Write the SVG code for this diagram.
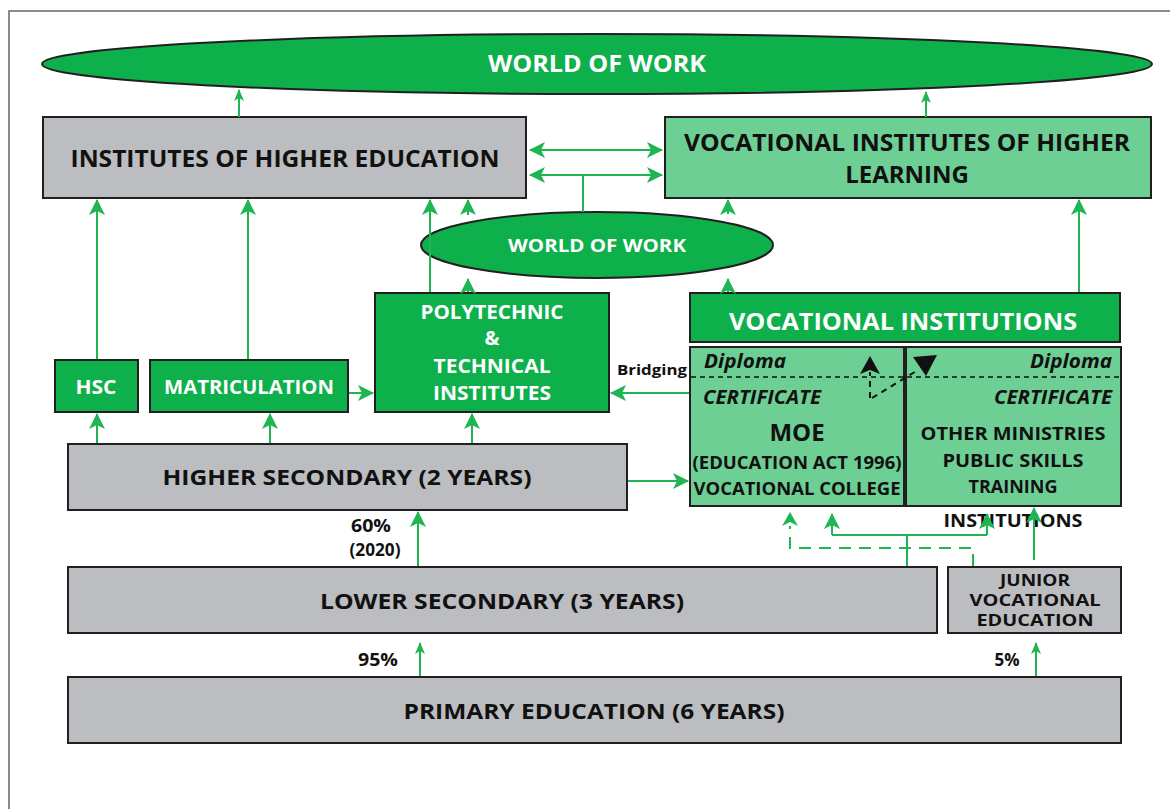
<svg xmlns="http://www.w3.org/2000/svg" width="1170" height="809" viewBox="0 0 1170 809">
<defs>
<style>
.t{font-family:"Open Sans","Liberation Sans",sans-serif;font-weight:700;text-anchor:middle}
.w{fill:#ffffff}
.k{fill:#111111}
.dg{fill:#0db04b;stroke:#231f20;stroke-width:2}
.lg{fill:#6dcf94;stroke:#231f20;stroke-width:2}
.gr{fill:#bcbdc0;stroke:#231f20;stroke-width:2}
.c{fill:none;stroke:#1fb552;stroke-width:2}
.cd{fill:none;stroke:#1fb552;stroke-width:2;stroke-dasharray:12 8}
.bd{fill:none;stroke:#111;stroke-width:2;stroke-dasharray:6 5}
</style>
<marker id="a" markerUnits="userSpaceOnUse" markerWidth="16" markerHeight="16" refX="15" refY="8" orient="auto-start-reverse" viewBox="0 0 16 16">
<path d="M0,0 L16,8 L0,16 L4,8 z" fill="#1fb552"/>
</marker>
<marker id="s" markerUnits="userSpaceOnUse" markerWidth="12" markerHeight="10" refX="11" refY="5" orient="auto-start-reverse" viewBox="0 0 12 10">
<path d="M0,0 L12,5 L0,10 L3,5 z" fill="#1fb552"/>
</marker>
</defs>
<rect width="1170" height="809" fill="#ffffff"/>
<path d="M9,815 V11 H1175" fill="none" stroke="#666" stroke-width="1.5"/>

<g id="world-of-work-top">
<ellipse cx="597" cy="64" rx="555" ry="30" class="dg"/>
<text class="t w" x="597" y="72" font-size="24" textLength="218" lengthAdjust="spacingAndGlyphs">WORLD OF WORK</text>
</g>
<g id="ihe">
<rect x="43" y="117" width="483" height="81" class="gr"/>
<text class="t k" x="285" y="167" font-size="24" textLength="429" lengthAdjust="spacingAndGlyphs">INSTITUTES OF HIGHER EDUCATION</text>
</g>
<g id="vihl">
<rect x="665" y="117" width="486" height="81" class="lg"/>
<text class="t k" x="907" y="151" font-size="24" textLength="446" lengthAdjust="spacingAndGlyphs">VOCATIONAL INSTITUTES OF HIGHER</text>
<text class="t k" x="907" y="183" font-size="24">LEARNING</text>
</g>
<g id="world-of-work-mid">
<ellipse cx="597" cy="245" rx="176" ry="33" class="dg"/>
<text class="t w" x="597" y="252" font-size="17" textLength="178" lengthAdjust="spacingAndGlyphs">WORLD OF WORK</text>
</g>
<g id="polytechnic">
<rect x="375" y="293" width="234" height="119" class="dg"/>
<text class="t w" x="492" y="319" font-size="20" textLength="143" lengthAdjust="spacingAndGlyphs">POLYTECHNIC</text>
<text class="t w" x="492" y="345" font-size="20">&amp;</text>
<text class="t w" x="492" y="373" font-size="20" textLength="117" lengthAdjust="spacingAndGlyphs">TECHNICAL</text>
<text class="t w" x="492" y="400" font-size="20" textLength="118" lengthAdjust="spacingAndGlyphs">INSTITUTES</text>
</g>
<g id="vocational-institutions">
<rect x="690" y="293" width="430" height="49" class="dg"/>
<text class="t w" x="903" y="330" font-size="24" textLength="348" lengthAdjust="spacingAndGlyphs">VOCATIONAL INSTITUTIONS</text>
</g>
<g id="hsc">
<rect x="55" y="360" width="83" height="52" class="dg"/>
<text class="t w" x="96" y="394" font-size="20" textLength="41" lengthAdjust="spacingAndGlyphs">HSC</text>
</g>
<g id="matriculation">
<rect x="150" y="360" width="198" height="52" class="dg"/>
<text class="t w" x="249" y="394" font-size="20" textLength="170" lengthAdjust="spacingAndGlyphs">MATRICULATION</text>
</g>
<g id="bridging">
<text class="t k" x="652" y="375" font-size="15" font-weight="600" textLength="70" lengthAdjust="spacingAndGlyphs">Bridging</text>
</g>
<g id="moe">
<rect x="690" y="347" width="214" height="159" class="lg"/>
<text class="t k" x="704" y="368" font-size="19" font-style="italic" style="text-anchor:start" textLength="82" lengthAdjust="spacingAndGlyphs">Diploma</text>
<text class="t k" x="703" y="404" font-size="20" font-style="italic" font-weight="600" style="text-anchor:start" textLength="118" lengthAdjust="spacingAndGlyphs">CERTIFICATE</text>
<text class="t k" x="797" y="441" font-size="24">MOE</text>
<text class="t k" x="797" y="469" font-size="18" font-weight="600" textLength="209" lengthAdjust="spacingAndGlyphs">(EDUCATION ACT 1996)</text>
<text class="t k" x="797" y="495" font-size="18" font-weight="600" textLength="207" lengthAdjust="spacingAndGlyphs">VOCATIONAL COLLEGE</text>
</g>
<g id="other-ministries">
<rect x="906" y="347" width="215" height="159" class="lg"/>
<text class="t k" x="1112" y="368" font-size="19" font-style="italic" style="text-anchor:end" textLength="82" lengthAdjust="spacingAndGlyphs">Diploma</text>
<text class="t k" x="1112" y="404" font-size="20" font-style="italic" font-weight="600" style="text-anchor:end" textLength="118" lengthAdjust="spacingAndGlyphs">CERTIFICATE</text>
<text class="t k" x="1013" y="440" font-size="18" font-weight="600" textLength="185" lengthAdjust="spacingAndGlyphs">OTHER MINISTRIES</text>
<text class="t k" x="1013" y="467" font-size="18" font-weight="600" textLength="141" lengthAdjust="spacingAndGlyphs">PUBLIC SKILLS</text>
<text class="t k" x="1013" y="493" font-size="18" font-weight="600">TRAINING</text>
<text class="t k" x="1013" y="527" font-size="18" font-weight="600" textLength="139" lengthAdjust="spacingAndGlyphs">INSTITUTIONS</text>
</g>
<g id="higher-secondary">
<rect x="68" y="444" width="559" height="66" class="gr"/>
<text class="t k" x="347" y="485" font-size="22" font-weight="600" textLength="369" lengthAdjust="spacingAndGlyphs">HIGHER SECONDARY (2 YEARS)</text>
</g>
<g id="pct60">
<text class="t k" x="371" y="532" font-size="17" textLength="40" lengthAdjust="spacingAndGlyphs">60%</text>
<text class="t k" x="375" y="556" font-size="17" textLength="51" lengthAdjust="spacingAndGlyphs">(2020)</text>
</g>
<g id="lower-secondary">
<rect x="68" y="567" width="869" height="66" class="gr"/>
<text class="t k" x="502" y="609" font-size="22" font-weight="600" textLength="364" lengthAdjust="spacingAndGlyphs">LOWER SECONDARY (3 YEARS)</text>
</g>
<g id="junior-vocational">
<rect x="948" y="567" width="173" height="66" class="gr"/>
<text class="t k" x="1035" y="586" font-size="16" font-weight="600" textLength="70" lengthAdjust="spacingAndGlyphs">JUNIOR</text>
<text class="t k" x="1035" y="606" font-size="16" font-weight="600" textLength="131" lengthAdjust="spacingAndGlyphs">VOCATIONAL</text>
<text class="t k" x="1035" y="626" font-size="16" font-weight="600" textLength="117" lengthAdjust="spacingAndGlyphs">EDUCATION</text>
</g>
<g id="pct95">
<text class="t k" x="378" y="666" font-size="17" textLength="40" lengthAdjust="spacingAndGlyphs">95%</text>
</g>
<g id="pct5">
<text class="t k" x="1007" y="666" font-size="17">5%</text>
</g>
<g id="primary">
<rect x="68" y="677" width="1053" height="66" class="gr"/>
<text class="t k" x="594" y="719" font-size="22" font-weight="600" textLength="381" lengthAdjust="spacingAndGlyphs">PRIMARY EDUCATION (6 YEARS)</text>
</g>

<g id="connectors">
<line class="c" x1="239" y1="117" x2="239" y2="90" marker-end="url(#s)"/>
<line class="c" x1="926" y1="117" x2="926" y2="92" marker-end="url(#s)"/>
<line class="c" x1="530" y1="150" x2="662" y2="150" marker-start="url(#a)" marker-end="url(#a)"/>
<line class="c" x1="530" y1="175" x2="662" y2="175" marker-start="url(#a)" marker-end="url(#a)"/>
<line class="c" x1="583" y1="176" x2="583" y2="212"/>
<line class="c" x1="97" y1="359" x2="97" y2="200" marker-end="url(#a)"/>
<line class="c" x1="248" y1="359" x2="248" y2="200" marker-end="url(#a)"/>
<line class="c" x1="430" y1="292" x2="430" y2="200" marker-end="url(#a)"/>
<line class="c" x1="468" y1="215" x2="468" y2="200" marker-end="url(#a)"/>
<line class="c" x1="468" y1="292" x2="468" y2="279" marker-end="url(#a)"/>
<line class="c" x1="728" y1="214" x2="728" y2="200" marker-end="url(#a)"/>
<line class="c" x1="728" y1="292" x2="728" y2="279" marker-end="url(#a)"/>
<line class="c" x1="1079" y1="292" x2="1079" y2="200" marker-end="url(#a)"/>
<line class="c" x1="349" y1="393" x2="373" y2="393" marker-end="url(#a)"/>
<line class="c" x1="689" y1="393" x2="611" y2="393" marker-end="url(#a)"/>
<line class="c" x1="97" y1="443" x2="97" y2="414" marker-end="url(#a)"/>
<line class="c" x1="270" y1="443" x2="270" y2="414" marker-end="url(#a)"/>
<line class="c" x1="472" y1="443" x2="472" y2="414" marker-end="url(#a)"/>
<line class="c" x1="628" y1="481" x2="688" y2="481" marker-end="url(#a)"/>
<line class="c" x1="418" y1="566" x2="418" y2="512" marker-end="url(#a)"/>
<line class="c" x1="420" y1="676" x2="420" y2="643" marker-end="url(#s)"/>
<line class="c" x1="1036" y1="676" x2="1036" y2="643" marker-end="url(#s)"/>
<path class="c" d="M907,566 V535 M832,535 H987 M832,535 V514" marker-end="url(#a)"/>
<line class="c" x1="987" y1="535" x2="987" y2="514" marker-end="url(#a)"/>
<line class="c" x1="1034" y1="560" x2="1034" y2="508" marker-end="url(#a)"/>
<path class="cd" d="M973,566 V548 H790 V526"/>
<path d="M782,526 L790,512 L798,526 L790,522 z" fill="#1fb552"/>
<line x1="691" y1="377" x2="1120" y2="377" stroke="#111" stroke-width="1.5" stroke-dasharray="5 4"/>
<path class="bd" d="M870,398 V372"/>
<path d="M860,374 L870,356 L880,374 L870,370 z" fill="#111"/>
<path class="bd" d="M872,398 L918,370"/>
<path d="M913,357 L937,355 L926,376 z" fill="#111"/>
</g>
</svg>
